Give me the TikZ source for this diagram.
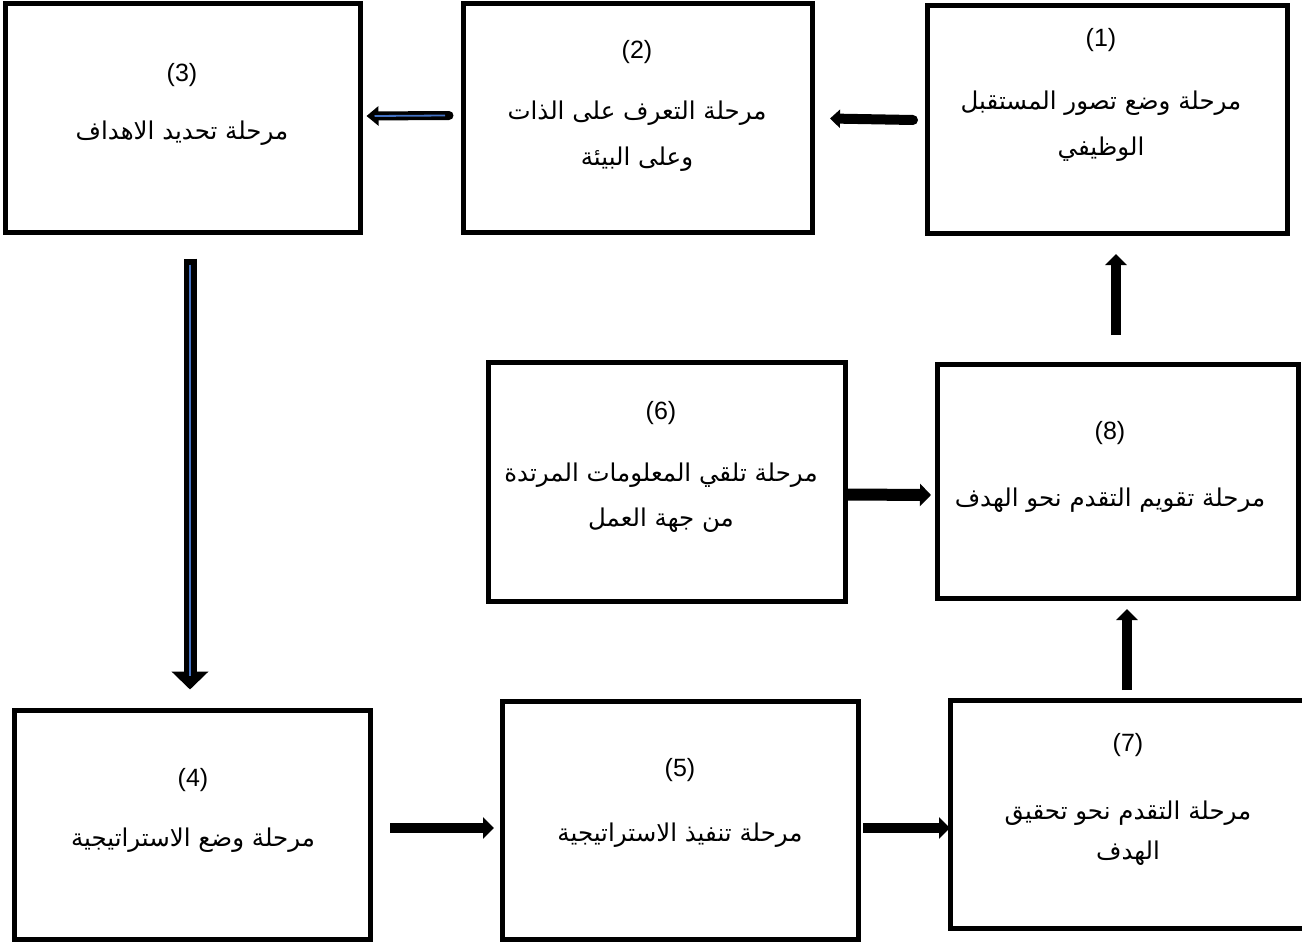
\documentclass[tikz,border=0pt]{standalone}
\usepackage{fontspec}
\setmainfont{Liberation Sans}
\newfontfamily\arabicfont[Script=Arabic]{DejaVu Sans}
\TeXXeTstate=1
\usetikzlibrary{arrows.meta,calc}
\definecolor{innerblue}{RGB}{68,114,196}
\tikzset{
  box/.style={draw=black, line width=5pt, rectangle, inner sep=0pt, outer sep=0pt},
  num/.style={font=\fontsize{25}{28}\selectfont, inner sep=0pt},
  lbl/.style={font=\arabicfont\fontsize{24.5}{46}\selectfont, align=center, inner sep=0pt},
  arr/.style={line width=10pt, -{Triangle[width=21pt,length=11pt]}},
  arrs/.style={line width=10pt, -{Triangle[width=18pt,length=10pt]}},
  dblout/.style={line width=9pt, draw=black, -{Triangle[width=19pt,length=12pt]}},
  dblin/.style={line width=1.8pt, draw=innerblue},
}
\begin{document}
\begin{tikzpicture}[x=1pt,y=-1pt]
\useasboundingbox (0,0) rectangle (1302,945);
% boxes
\node[box, minimum width=355pt, minimum height=229pt] (b3) at (183,118) {};
\node[box, minimum width=349pt, minimum height=229pt] (b2) at (637.5,117.5) {};
\node[box, minimum width=360pt, minimum height=228pt] (b1) at (1107,119) {};
\node[box, minimum width=357pt, minimum height=239pt] (b6) at (666.5,481.5) {};
\node[box, minimum width=361pt, minimum height=234pt] (b8) at (1117.5,481) {};
\node[box, minimum width=356pt, minimum height=229pt] (b4) at (192,825) {};
\node[box, minimum width=356pt, minimum height=238pt] (b5) at (680,820) {};
\node[box, minimum width=372pt, minimum height=228pt] (b7) at (1136,814) {};
% texts
\node[num] (n3) at (182,75) {(3)};
\node[lbl] (t3) at (182,133) {\beginR مرحلة تحديد الاهداف\endR};
\node[num] (n2) at (637,52) {(2)};
\node[lbl] (t2) at (637,136) {\beginR مرحلة التعرف على الذات\endR\\\beginR وعلى البيئة\endR};
\node[num] (n1) at (1101,40) {(1)};
\node[lbl] (t1) at (1101,126.5) {\beginR مرحلة وضع تصور المستقبل\endR\\\beginR الوظيفي\endR};
\node[num] (n6) at (661,413) {(6)};
\node[lbl, font=\arabicfont\fontsize{24.5}{45}\selectfont] (t6) at (661,497.5) {\beginR مرحلة تلقي المعلومات المرتدة\endR\\\beginR من جهة العمل\endR};
\node[num] (n8) at (1110,433) {(8)};
\node[lbl] (t8) at (1110,500) {\beginR مرحلة تقويم التقدم نحو الهدف\endR};
\node[num] (n4) at (193,780) {(4)};
\node[lbl] (t4) at (193,840) {\beginR مرحلة وضع الاستراتيجية\endR};
\node[num] (n5) at (680,770) {(5)};
\node[lbl] (t5) at (680,835) {\beginR مرحلة تنفيذ الاستراتيجية\endR};
\node[num] (n7) at (1128,745) {(7)};
\node[lbl, font=\arabicfont\fontsize{24.5}{40}\selectfont] (t7) at (1128,833) {\beginR مرحلة التقدم نحو تحقيق\endR\\\beginR الهدف\endR};
% arrow end points
\coordinate (a12s) at ($(b1.west)+(-14,1)$);
\coordinate (a12e) at ($(b2.east)+(18,1)$);
\coordinate (a23s) at ($(b2.west)+(-14,-2)$);
\coordinate (a23e) at ($(b3.east)+(6,-2)$);
\coordinate (a34s) at ($(b3.south)+(7,26)$);
\coordinate (a34e) at ($(b4.north)+(-2,-21)$);
\coordinate (a45s) at ($(b4.east)+(20,3)$);
\coordinate (a45e) at ($(b5.west)+(-8,8)$);
\coordinate (a57s) at ($(b5.east)+(5,8)$);
\coordinate (a57e) at ($(b7.west)+(0,14)$);
\coordinate (a78s) at ($(b7.north)+(-9,-10)$);
\coordinate (a78e) at ($(b8.south)+(9.5,11)$);
\coordinate (a68s) at ($(b6.east)+(0,13)$);
\coordinate (a68e) at ($(b8.west)+(-6,14)$);
\coordinate (a81s) at ($(b8.north)+(-1.5,-29)$);
\coordinate (a81e) at ($(b1.south)+(9,21)$);
% arrows
\draw[arrs, line cap=round] (a12s) -- (a12e);
\draw[dblout, line cap=round] (a23s) -- (a23e);
\draw[dblin] ($(a23s)+(-4,0)$) -- ($(a23e)+(8,0)$);
\draw[line width=13pt, -{Triangle[width=36pt,length=18pt]}] (a34s) -- (a34e);
\draw[dblin] ($(a34s)+(0,6)$) -- ($(a34e)+(0,-14)$);
\draw[arr] (a45s) -- (a45e);
\draw[arr] (a57s) -- (a57e);
\draw[arr] (a78s) -- (a78e);
\draw[line width=12pt, -{Triangle[width=22pt,length=11pt]}] (a68s) -- (a68e);
\draw[arr] (a81s) -- (a81e);
\end{tikzpicture}
\end{document}
